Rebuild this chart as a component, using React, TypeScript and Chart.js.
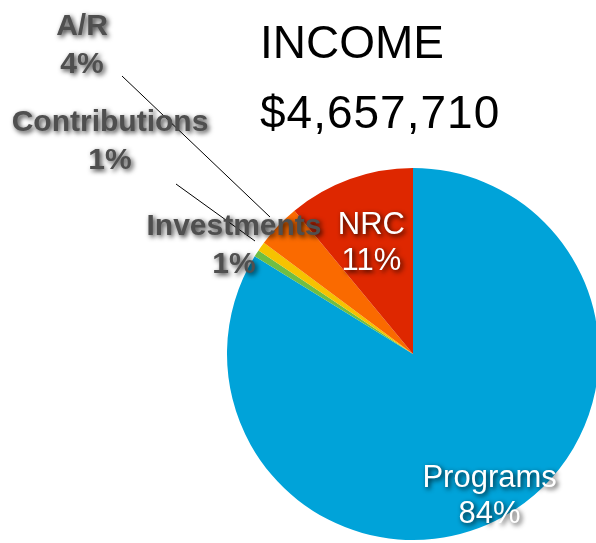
import React, { useEffect, useRef } from "react";
import { Chart, registerables } from "chart.js";

Chart.register(...registerables);

const categories = ["Programs", "Investments", "Contributions", "A/R", "NRC"];
const shares = [83.8, 0.6, 0.8, 3.8, 11.0];
const colors = ["#00A3D9", "#6FBE44", "#F6C300", "#FA6A00", "#DE2700"];
const titleLines = ["INCOME", "$4,657,710"];

// label placement (annotation layout)
const insideLabels: Record<string, number> = { Programs: 0.845, NRC: 0.66 };
const outsideLabels: Record<string, { x: number; y: number; line?: [number, number, number, number] }> = {
  "A/R": { x: 82, y: 35, line: [122, 76, 270, 217] },
  Contributions: { x: 110, y: 131, line: [176, 184, 255, 241] },
  Investments: { x: 234, y: 235 },
};

const FONT = "'Liberation Sans', Arial, Helvetica, sans-serif";

const labelPlugin = {
  id: "labelPlugin",
  afterDraw(chart: any) {
    const ctx = chart.ctx as CanvasRenderingContext2D;
    const meta = chart.getDatasetMeta(0);
    ctx.save();
    // title
    ctx.fillStyle = "#000";
    ctx.textAlign = "left";
    ctx.textBaseline = "alphabetic";
    ctx.font = `46px ${FONT}`;
    ctx.fillText(titleLines[0], 260, 58);
    (ctx as any).letterSpacing = "1px";
    ctx.fillText(titleLines[1], 260, 128);
    (ctx as any).letterSpacing = "0px";

    // leader lines
    ctx.strokeStyle = "#000";
    ctx.lineWidth = 1;
    Object.values(outsideLabels).forEach((o) => {
      if (!o.line) return;
      ctx.beginPath();
      ctx.moveTo(o.line[0], o.line[1]);
      ctx.lineTo(o.line[2], o.line[3]);
      ctx.stroke();
    });

    ctx.textAlign = "center";
    categories.forEach((cat, i) => {
      const pct = Math.round(shares[i]) + "%";
      const arc = meta.data[i];
      if (insideLabels[cat] !== undefined) {
        const mid = (arc.startAngle + arc.endAngle) / 2;
        const r = arc.outerRadius * insideLabels[cat];
        const cx = arc.x + Math.cos(mid) * r;
        const cy = arc.y + Math.sin(mid) * r;
        ctx.font = `31px ${FONT}`;
        ctx.fillStyle = "#ffffff";
        ctx.shadowColor = "rgba(0,0,0,0.85)";
        ctx.shadowBlur = 5;
        ctx.shadowOffsetX = 2;
        ctx.shadowOffsetY = 2;
        ctx.fillText(cat, cx, cy - 4);
        ctx.fillText(pct, cx, cy + 32);
      } else if (outsideLabels[cat]) {
        const o = outsideLabels[cat];
        ctx.font = `bold 30px ${FONT}`;
        ctx.fillStyle = "#4f4f4f";
        ctx.shadowColor = "rgba(0,0,0,0.8)";
        ctx.shadowBlur = 5;
        ctx.shadowOffsetX = 2;
        ctx.shadowOffsetY = 2;
        ctx.fillText(cat, o.x, o.y);
        ctx.fillText(pct, o.x, o.y + 38);
      }
    });
    ctx.restore();
  },
};

export default function App() {
  const ref = useRef<HTMLCanvasElement | null>(null);
  useEffect(() => {
    if (!ref.current) return;
    const chart = new Chart(ref.current, {
      type: "pie",
      data: {
        labels: categories,
        datasets: [
          {
            data: shares,
            backgroundColor: colors,
            borderWidth: 0,
          },
        ],
      },
      options: {
        responsive: false,
        animation: false,
        layout: { padding: { left: 227, right: 41, top: 168, bottom: 3 } },
        plugins: {
          legend: { display: false },
          tooltip: { enabled: false },
        },
      },
      plugins: [labelPlugin],
    });
    return () => chart.destroy();
  }, []);
  return (
    <div
      style={{
        position: "absolute",
        left: 0,
        top: 0,
        width: 596,
        height: 543,
        overflow: "hidden",
        background: "#fff",
      }}
    >
      <canvas ref={ref} width={640} height={543} style={{ width: 640, height: 543 }} />
    </div>
  );
}
